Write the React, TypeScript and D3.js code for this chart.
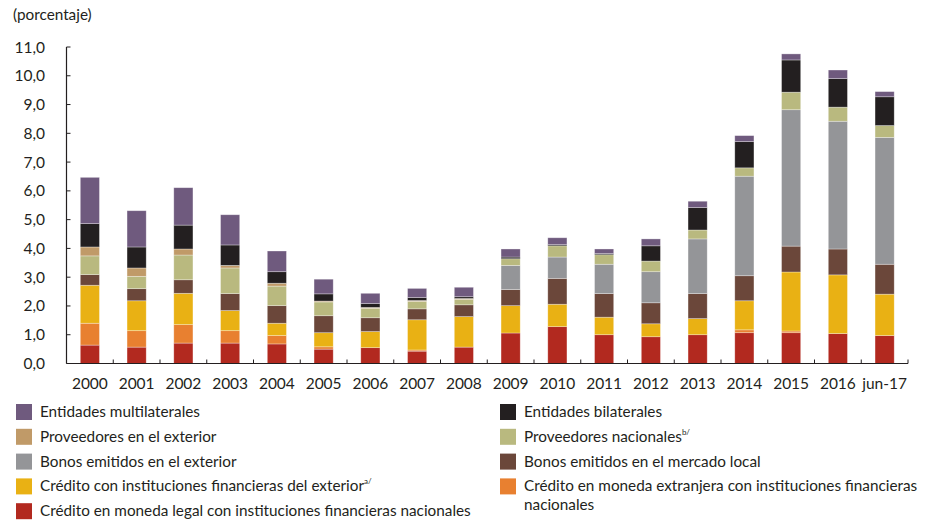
import React from "react";
import * as d3 from "d3";

const categories = ["2000","2001","2002","2003","2004","2005","2006","2007","2008","2009","2010","2011","2012","2013","2014","2015","2016","jun-17"];

const creditoMonedaLegal = [0.64,0.57,0.71,0.71,0.68,0.50,0.55,0.43,0.57,1.06,1.28,1.00,0.93,1.00,1.07,1.07,1.04,0.97];
const creditoMonedaExtranjera = [0.76,0.57,0.64,0.43,0.29,0.08,0,0.04,0,0,0,0,0,0,0.10,0.06,0,0];
const creditoExterior = [1.32,1.04,1.09,0.70,0.43,0.49,0.56,1.05,1.06,0.95,0.78,0.61,0.45,0.56,1.01,2.05,2.04,1.44];
const bonosLocal = [0.37,0.42,0.47,0.59,0.61,0.59,0.48,0.38,0.41,0.56,0.90,0.82,0.73,0.87,0.87,0.90,0.90,1.04];
const bonosExterior = [0,0,0,0,0,0,0,0,0,0.84,0.74,1.02,1.08,1.90,3.46,4.74,4.44,4.41];
const proveedoresNacionales = [0.65,0.43,0.86,0.89,0.68,0.48,0.33,0.26,0.19,0.23,0.39,0.33,0.37,0.31,0.29,0.61,0.49,0.41];
const proveedoresExterior = [0.31,0.29,0.21,0.09,0.10,0.03,0.03,0.03,0.03,0,0,0,0,0,0,0,0,0];
const entidadesBilaterales = [0.81,0.73,0.83,0.71,0.40,0.25,0.13,0.10,0.06,0.06,0.04,0.04,0.53,0.78,0.91,1.12,0.99,1.00];
const entidadesMultilaterales = [1.61,1.26,1.30,1.05,0.72,0.51,0.36,0.32,0.33,0.28,0.24,0.16,0.24,0.22,0.21,0.21,0.30,0.18];

const yTicks = [0,1,2,3,4,5,6,7,8,9,10,11];

const seriesKeys = ["legal","extranjera","exterior","bonosLocal","bonosExt","provNac","provExt","bilat","multi"];
const seriesValues: Record<string, number[]> = {
  legal: creditoMonedaLegal,
  extranjera: creditoMonedaExtranjera,
  exterior: creditoExterior,
  bonosLocal: bonosLocal,
  bonosExt: bonosExterior,
  provNac: proveedoresNacionales,
  provExt: proveedoresExterior,
  bilat: entidadesBilaterales,
  multi: entidadesMultilaterales,
};
const colors: Record<string, string> = {
  legal: "#b2291f",
  extranjera: "#e88030",
  exterior: "#e9b114",
  bonosLocal: "#6b473a",
  bonosExt: "#949598",
  provNac: "#b9b97f",
  provExt: "#c09a68",
  bilat: "#231f20",
  multi: "#6f5a7e",
};

const TEXT = "#231f20";
const FONT = "Lato, 'Open Sans', sans-serif";
const LFS = 15.3;

export default function App() {
  const x = d3.scaleBand<string>().domain(categories).range([66.5, 908]).paddingInner(0.59).paddingOuter(0.295);
  const y = d3.scaleLinear().domain([0, 11]).range([363.5, 47]);

  const table = categories.map((c, i) => {
    const row: any = { cat: c };
    seriesKeys.forEach((k) => (row[k] = seriesValues[k][i]));
    return row;
  });
  const stacked = d3.stack().keys(seriesKeys)(table);
  const step = x.step();
  const x0 = x.range()[0];

  const legendLeft = [
    { key: "multi", label: "Entidades multilaterales" },
    { key: "provExt", label: "Proveedores en el exterior" },
    { key: "bonosExt", label: "Bonos emitidos en el exterior" },
    { key: "exterior", label: "Crédito con instituciones financieras del exterior", sup: "a/" },
    { key: "legal", label: "Crédito en moneda legal con instituciones financieras nacionales" },
  ];
  const legendRight = [
    { key: "bilat", label: "Entidades bilaterales" },
    { key: "provNac", label: "Proveedores nacionales", sup: "b/" },
    { key: "bonosLocal", label: "Bonos emitidos en el mercado local" },
    { key: "extranjera", label: "Crédito en moneda extranjera con instituciones financieras", line2: "nacionales" },
  ];
  const rowY = (i: number) => 412 + i * 24.8;

  const renderLegend = (items: any[], sx: number) =>
    items.map((it, i) => (
      <g key={it.key}>
        <rect x={sx} y={rowY(i) - 8} width={16} height={16} fill={colors[it.key]} />
        <text x={sx + 24} y={rowY(i) + 5} fontSize={LFS} fill={TEXT} fontFamily={FONT}>
          {it.label}
          {it.sup ? (
            <tspan fontSize={8} dy={-7}>{it.sup}</tspan>
          ) : null}
        </text>
        {it.line2 ? (
          <text x={sx + 24} y={rowY(i) + 24} fontSize={LFS} fill={TEXT} fontFamily={FONT}>
            {it.line2}
          </text>
        ) : null}
      </g>
    ));

  return (
    <svg width={928} height={522} style={{ position: "absolute", left: 0, top: 0, background: "#fff" }}>
      <text x={13} y={20} fontSize={LFS} fill={TEXT} fontFamily={FONT}>(porcentaje)</text>

      {stacked.map((s) => (
        <g key={s.key} fill={colors[s.key]}>
          {s.map((d, i) =>
            d[1] - d[0] > 0 ? (
              <rect
                key={i}
                x={x(categories[i])}
                width={x.bandwidth()}
                y={y(d[1])}
                height={y(d[0]) - y(d[1])}
                stroke="rgba(255,255,255,0.45)"
                strokeWidth={0.7}
              />
            ) : null
          )}
        </g>
      ))}

      {/* y axis */}
      <line x1={66.5} x2={66.5} y1={y(11)} y2={y(0)} stroke={TEXT} strokeWidth={1.2} />
      {yTicks.map((t) => (
        <g key={t}>
          <line x1={66.5} x2={70.5} y1={y(t)} y2={y(t)} stroke={TEXT} strokeWidth={1} />
          <text x={45} y={y(t) + 5.5} textAnchor="end" fontSize={15.5} fill={TEXT} fontFamily={FONT}>
            {d3.format(".1f")(t).replace(".", ",")}
          </text>
        </g>
      ))}

      {/* x axis */}
      <line x1={66.5} x2={908} y1={y(0)} y2={y(0)} stroke={TEXT} strokeWidth={1.2} />
      {categories.map((c, i) => (
        <g key={c}>
          <line x1={x0 + (i + 1) * step} x2={x0 + (i + 1) * step} y1={y(0)} y2={y(0) - 4} stroke={TEXT} strokeWidth={1} />
          <text x={(x(c) as number) + x.bandwidth() / 2} y={389} textAnchor="middle" fontSize={15.5} fill={TEXT} fontFamily={FONT}>
            {c}
          </text>
        </g>
      ))}

      {renderLegend(legendLeft, 16)}
      {renderLegend(legendRight, 500)}
    </svg>
  );
}
